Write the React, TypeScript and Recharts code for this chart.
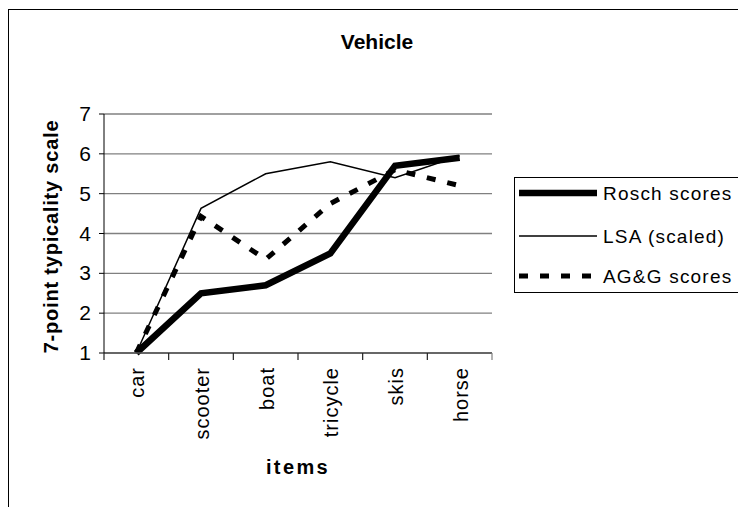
import React from "react";
import { LineChart, Line, XAxis, YAxis, CartesianGrid, Label } from "recharts";

// categories and series values
const items = ["car", "scooter", "boat", "tricycle", "skis", "horse"];
const roschScores = [1.0, 2.5, 2.7, 3.5, 5.7, 5.9];
const lsaScaled = [1.0, 4.63, 5.5, 5.8, 5.4, 5.95];
const aggScores = [1.0, 4.43, 3.35, 4.75, 5.6, 5.2];
const yTicks = [1, 2, 3, 4, 5, 6, 7];

const series = [
  { key: "rosch", name: "Rosch scores", width: 6.5, dash: undefined as string | undefined },
  { key: "lsa", name: "LSA (scaled)", width: 1.5, dash: undefined as string | undefined },
  { key: "agg", name: "AG&G scores", width: 5, dash: "9 12" },
];

const data = items.map((item, i) => ({
  item,
  rosch: roschScores[i],
  lsa: lsaScaled[i],
  agg: aggScores[i],
}));

const FONT = "'Liberation Sans', Arial, sans-serif";
const W = 738;
const H = 499;
const MARGIN = { top: 106, right: 254, bottom: 114, left: 36 };
const Y_AXIS_W = 60;
const X_AXIS_H = 40;
const PLOT_W = W - MARGIN.left - MARGIN.right - Y_AXIS_W;
const PLOT_BOTTOM = H - MARGIN.bottom - X_AXIS_H;
const BAND = PLOT_W / items.length;

// category ticks sit between bands, labels are rotated and hang below the axis
const ItemTick = (props: any) => {
  const { x, y, payload, index } = props;
  const half = BAND / 2;
  return (
    <g>
      <line
        x1={x - half}
        x2={x - half}
        y1={PLOT_BOTTOM}
        y2={PLOT_BOTTOM + 7}
        stroke="#222"
        strokeWidth={1.2}
      />
      {index === items.length - 1 && (
        <line
          x1={x + half}
          x2={x + half}
          y1={PLOT_BOTTOM}
          y2={PLOT_BOTTOM + 7}
          stroke="#808080"
          strokeWidth={1.2}
        />
      )}
      <text
        transform={`translate(${x + 8},${y + 14}) rotate(-90)`}
        textAnchor="end"
        fontSize={20}
        letterSpacing={1}
        fill="#000"
        fontFamily={FONT}
      >
        {payload.value}
      </text>
    </g>
  );
};

const ValueTick = (props: any) => {
  const { x, y, payload } = props;
  return (
    <text
      x={x}
      y={y + 7}
      textAnchor="end"
      fontSize={21}
      fill="#000"
      fontFamily={FONT}
    >
      {payload.value}
    </text>
  );
};

const YTitle = (props: any) => {
  const vb = props.viewBox || { x: 36, y: 106, width: 60, height: 239 };
  const cx = vb.x + vb.width - 46;
  const cy = vb.y + vb.height / 2 + 3;
  return (
    <text
      transform={`translate(${cx},${cy}) rotate(-90)`}
      textAnchor="middle"
      fontSize={20}
      fontWeight="bold"
      letterSpacing={0.8}
      fill="#000"
      fontFamily={FONT}
    >
      7-point typicality scale
    </text>
  );
};

const XTitle = (props: any) => {
  const vb = props.viewBox || { x: 96, y: 345, width: 388, height: 40 };
  return (
    <text
      x={vb.x + vb.width / 2}
      y={vb.y + 121}
      textAnchor="middle"
      fontSize={20}
      fontWeight="bold"
      letterSpacing={2.4}
      fill="#000"
      fontFamily={FONT}
    >
      items
    </text>
  );
};

const LegendBox = () => {
  const rows = [16, 59, 99];
  return (
    <svg
      width={231}
      height={116}
      style={{ position: "absolute", left: 506, top: 169 }}
    >
      <rect x={0.5} y={0.5} width={230} height={115} fill="#fff" stroke="#000" />
      {series.map((s, i) => (
        <g key={s.key}>
          <line
            x1={5}
            x2={83}
            y1={rows[i]}
            y2={rows[i]}
            stroke="#000"
            strokeWidth={s.width}
            strokeDasharray={s.dash}
          />
          <text
            x={89}
            y={rows[i] + 7}
            fontSize={19}
            letterSpacing={1.2}
            fill="#000"
            fontFamily={FONT}
          >
            {s.name}
          </text>
        </g>
      ))}
    </svg>
  );
};

export default function App() {
  return (
    <div
      style={{
        position: "relative",
        width: W,
        height: H,
        overflow: "hidden",
        background: "#fff",
        fontFamily: FONT,
      }}
    >
      <div
        style={{
          position: "absolute",
          left: 0,
          top: 1,
          width: W + 40,
          height: H + 40,
          borderLeft: "1px solid #000",
          borderTop: "1px solid #000",
        }}
      />
      <div
        style={{
          position: "absolute",
          left: 0,
          top: 22,
          width: W,
          textAlign: "center",
          fontSize: 21,
          lineHeight: "24px",
          fontWeight: "bold",
          color: "#000",
        }}
      >
        Vehicle
      </div>
      <div style={{ position: "absolute", left: 0, top: 0 }}>
        <LineChart width={W} height={H} data={data} margin={MARGIN}>
          <CartesianGrid
            yAxisId="left"
            vertical={false}
            stroke="#808080"
            strokeWidth={1.3}
          />
          <XAxis
            dataKey="item"
            height={X_AXIS_H}
            interval={0}
            padding={{ left: BAND / 2, right: BAND / 2 }}
            tickSize={0}
            tickMargin={0}
            tickLine={false}
            axisLine={{ stroke: "#555", strokeWidth: 1.3 }}
            tick={<ItemTick />}
          >
            <Label content={XTitle} />
          </XAxis>
          <YAxis
            yAxisId="left"
            type="number"
            domain={[1, 7]}
            ticks={yTicks}
            interval={0}
            width={Y_AXIS_W}
            axisLine={{ stroke: "#000" }}
            tickLine={{ stroke: "#000" }}
            tickSize={5}
            tickMargin={8}
            tick={<ValueTick />}
          >
            <Label content={YTitle} />
          </YAxis>
          <YAxis
            yAxisId="right"
            orientation="right"
            type="number"
            domain={[1, 7]}
            width={0}
            tick={false}
            tickLine={false}
            axisLine={{ stroke: "#808080", strokeWidth: 1.3 }}
          />
          {series.map((s) => (
            <Line
              key={s.key}
              yAxisId="left"
              type="linear"
              dataKey={s.key}
              name={s.name}
              stroke="#000"
              strokeWidth={s.width}
              strokeDasharray={s.dash}
              dot={false}
              activeDot={false}
              isAnimationActive={false}
            />
          ))}
        </LineChart>
      </div>
      <LegendBox />
    </div>
  );
}
